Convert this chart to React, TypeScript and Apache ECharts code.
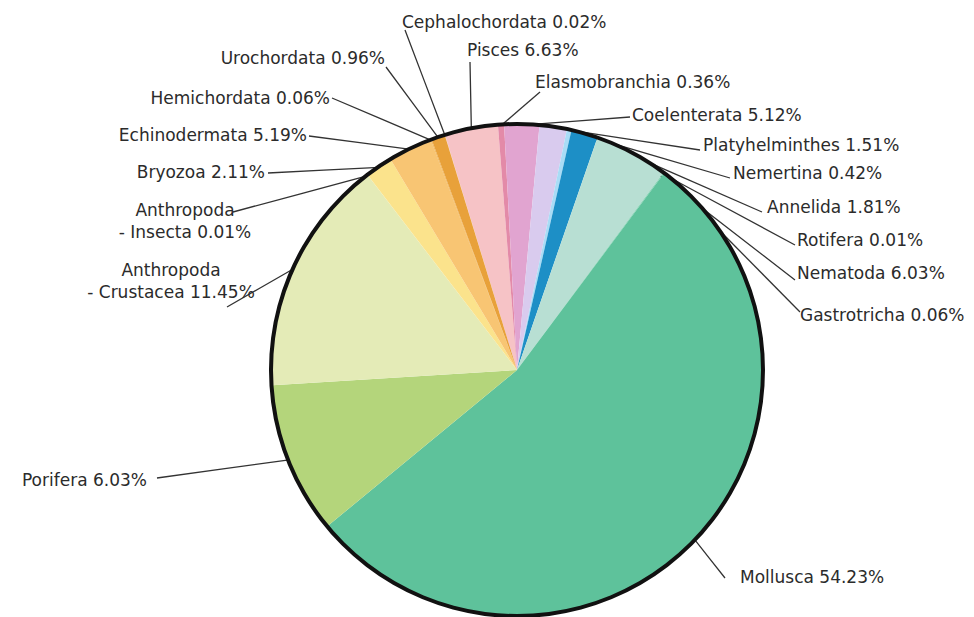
import React, { useEffect, useRef } from "react";
import * as echarts from "echarts";

// Taxa in clockwise order, starting just left of 12 o'clock
const taxa = [
  "Cephalochordata",
  "Pisces",
  "Elasmobranchia",
  "Coelenterata",
  "Platyhelminthes",
  "Nemertina",
  "Annelida",
  "Rotifera",
  "Nematoda",
  "Gastrotricha",
  "Mollusca",
  "Porifera",
  "Anthropoda\n- Crustacea",
  "Anthropoda\n- Insecta",
  "Bryozoa",
  "Echinodermata",
  "Hemichordata",
  "Urochordata",
];

// Percentages as printed on the labels
const labelPercents = [
  "0.02%", "6.63%", "0.36%", "5.12%", "1.51%", "0.42%", "1.81%", "0.01%", "6.03%",
  "0.06%", "54.23%", "6.03%", "11.45%", "0.01%", "2.11%", "5.19%", "0.06%", "0.96%",
];

// Slice shares as drawn in the picture (%)
const sliceShares = [
  0.02, 3.5, 0.4, 2.3, 1.8, 0.3, 1.75, 0.01, 4.85,
  0.06, 53.9, 10, 15.6, 0.01, 1.8, 2.9, 0.06, 0.9,
];

const sliceColors = [
  "#f3c9b8", "#f6c3c6", "#e38aa8", "#e1a4d0", "#d9cbee", "#a9dcf6", "#1d8fc6", "#8fd3c8", "#b8dfd3",
  "#7fd0b0", "#5ec29b", "#b4d57b", "#e4ebb7", "#eef0a8", "#fbe38c", "#f8c573", "#f0b050", "#e8a13a",
];

// Label placement: text anchor [x, y, align] and leader-line end [lx, ly]
const labelSpots: [number, number, string, number, number][] = [
  [402, 22, "left", 405, 30],
  [467, 50, "left", 470, 62],
  [535, 82, "left", 540, 92],
  [632, 115, "left", 630, 117],
  [703, 145, "left", 700, 150],
  [733, 173, "left", 730, 178],
  [767, 207, "left", 762, 212],
  [797, 240, "left", 795, 245],
  [797, 273, "left", 795, 280],
  [800, 315, "left", 800, 312],
  [740, 577, "left", 725, 578],
  [147, 480, "right", 157, 478],
  [171, 281, "center", 227, 307],
  [185, 221, "center", 233, 212],
  [265, 172, "right", 268, 173],
  [307, 135, "right", 309, 136],
  [330, 98, "right", 332, 98],
  [385, 58, "right", 386, 67],
];

export default function App() {
  const ref = useRef<HTMLDivElement>(null);

  useEffect(() => {
    if (!ref.current) return;
    const chart = echarts.init(ref.current, null, { renderer: "svg" });
    const data = taxa.map((name, i) => ({
      name,
      value: sliceShares[i],
      itemStyle: { color: sliceColors[i] },
    }));
    chart.setOption({
      animation: false,
      backgroundColor: "#ffffff",
      series: [
        {
          type: "pie",
          center: [517, 370],
          radius: [0, 245],
          startAngle: 107.1,
          clockwise: true,
          avoidLabelOverlap: false,
          silent: true,
          data,
          itemStyle: { borderWidth: 0 },
          label: {
            show: true,
            position: "outside",
            fontFamily: "DejaVu Sans",
            fontSize: 17,
            lineHeight: 22,
            color: "#2b2b2b",
            formatter: (p: any) => `${p.name} ${labelPercents[p.dataIndex]}`,
          },
          labelLine: {
            show: true,
            smooth: false,
            lineStyle: { color: "#333333", width: 1.3 },
          },
          labelLayout: (p: any) => {
            const s = labelSpots[p.dataIndex];
            const start = p.labelLinePoints ? p.labelLinePoints[0] : [s[3], s[4]];
            return {
              x: s[0],
              y: s[1],
              align: s[2],
              verticalAlign: "middle",
              labelLinePoints: [
                [start[0], start[1]],
                [(start[0] + s[3]) / 2, (start[1] + s[4]) / 2],
                [s[3], s[4]],
              ],
            };
          },
        },
        {
          type: "pie",
          center: [517, 370],
          radius: [244, 248],
          silent: true,
          label: { show: false },
          labelLine: { show: false },
          data: [{ value: 1, itemStyle: { color: "#111111" } }],
        },
      ],
    });
    return () => chart.dispose();
  }, []);

  return (
    <div
      ref={ref}
      style={{ position: "absolute", left: 0, top: 0, width: 974, height: 617 }}
    />
  );
}
